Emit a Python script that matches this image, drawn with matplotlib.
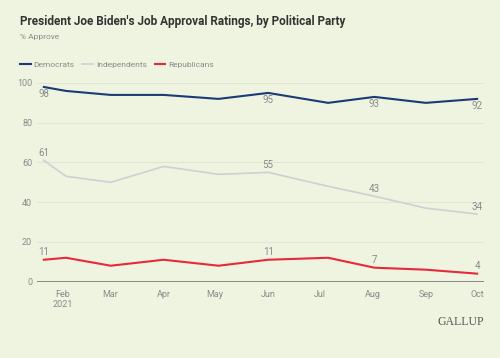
import matplotlib

matplotlib.use("Agg")
import matplotlib.pyplot as plt
import matplotlib.dates as mdates
import numpy as np

dates = np.array(
    ["2021-01-21", "2021-02-03", "2021-03-01", "2021-04-01", "2021-05-03",
     "2021-06-01", "2021-07-06", "2021-08-02", "2021-09-01", "2021-10-01"],
    dtype="datetime64[D]",
)
democrats = [98, 96, 94, 94, 92, 95, 90, 93, 90, 92]
independents = [61, 53, 50, 58, 54, 55, 48, 43, 37, 34]
republicans = [11, 12, 8, 11, 8, 11, 12, 7, 6, 4]
labelled = [0, 5, 7, 9]  # points with value labels
tick_dates = np.array(
    ["2021-02-01", "2021-03-01", "2021-04-01", "2021-05-01", "2021-06-01",
     "2021-07-01", "2021-08-01", "2021-09-01", "2021-10-01"],
    dtype="datetime64[D]",
)
tick_labels = ["Feb\n2021", "Mar", "Apr", "May", "Jun", "Jul", "Aug", "Sep", "Oct"]

plt.rcParams["font.family"] = ["Roboto", "DejaVu Sans"]

bg = "#eef4df"
grey = "#8a8a8a"
series = [
    ("Democrats", democrats, "#1b3a78", 1.5, "below"),
    ("Independents", independents, "#cfcfd6", 1.2, "above"),
    ("Republicans", republicans, "#e8283c", 1.5, "above"),
]

fig = plt.figure(figsize=(5.0, 3.58), dpi=100, facecolor=bg)
ax = fig.add_axes([37 / 500, 1 - 281.6 / 358, 447 / 500, 198.6 / 358])
ax.set_facecolor(bg)

x = mdates.date2num(dates)
for name, vals, color, lw, pos in series:
    ax.plot(x, vals, color=color, linewidth=lw, label=name, clip_on=False, zorder=3)
    for i in labelled:
        dy = -5.3 if pos == "below" else 5.3
        ax.annotate(str(vals[i]), (x[i], vals[i]), xytext=(0, dy), textcoords="offset points",
                    ha="center", va="center", fontsize=7, color=grey)

ax.set_xlim(mdates.date2num(np.datetime64("2021-01-17")), mdates.date2num(np.datetime64("2021-10-05")))
ax.set_ylim(0, 100)
ax.set_yticks([0, 20, 40, 60, 80, 100])
ax.set_xticks(mdates.date2num(tick_dates))
ax.set_xticklabels(tick_labels)
ax.tick_params(axis="both", length=0, labelsize=6.5, labelcolor=grey)
ax.tick_params(axis="x", pad=6)
ax.grid(axis="y", color="#dfe6d2", linewidth=0.8)
ax.set_axisbelow(True)
for s in ax.spines.values():
    s.set_visible(False)
ax.axhline(0, color="#777777", linewidth=1.2, zorder=2)

fig.text(20 / 500, 1 - 21.7 / 358, "President Joe Biden's Job Approval Ratings, by Political Party",
         fontsize=8.5, fontweight="bold", color="#333333", va="center")
fig.text(20 / 500, 1 - 36.7 / 358, "% Approve", fontsize=6, color=grey, va="center")

handles = ax.get_lines()[:3]
fig.legend(handles, [s[0] for s in series], loc="center left", bbox_to_anchor=(20 / 500, 1 - 64.3 / 358),
           ncol=3, frameon=False, fontsize=6, handlelength=1.3, handletextpad=0.35,
           columnspacing=0.9, borderpad=0, borderaxespad=0, labelcolor=grey)

fig.text(484 / 500, 1 - 321.7 / 358, "GALLUP", fontsize=8.5, family="Liberation Serif",
         color="#555555", ha="right", va="center")

fig.savefig("out.png", dpi=100, facecolor=bg)
